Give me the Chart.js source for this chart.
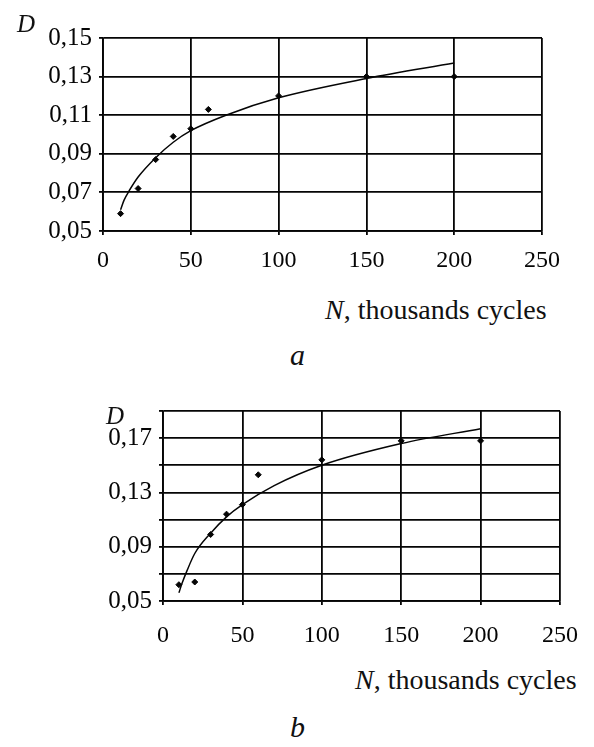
<!DOCTYPE html>
<html>
<head>
<meta charset="utf-8">
<script src="https://cdn.jsdelivr.net/npm/chart.js@4.4.1/dist/chart.umd.min.js"></script>
<style>
  html, body { margin: 0; padding: 0; background: #fff; }
  body { width: 594px; height: 747px; position: relative; overflow: hidden; font-family: "Liberation Serif", "Times New Roman", serif; color: #111; }
  .box { position: absolute; left: 0; width: 594px; }
  .txt { position: absolute; white-space: nowrap; line-height: 1; }
  .it { font-style: italic; }
</style>
</head>
<body>
<div class="box" style="top:0;height:280px;"><canvas id="ca" width="594" height="280"></canvas></div>
<div class="box" style="top:380px;height:280px;"><canvas id="cb" width="594" height="280"></canvas></div>

<div class="txt it" style="left:17px;top:11px;font-size:25px;">D</div>
<div class="txt" style="left:325px;top:296px;font-size:28px;"><span class="it">N</span>, thousands cycles</div>
<div class="txt it" style="left:290px;top:340px;font-size:30px;">a</div>

<div class="txt it" style="left:106px;top:403px;font-size:25px;">D</div>
<div class="txt" style="left:355px;top:666px;font-size:28px;"><span class="it">N</span>, thousands cycles</div>
<div class="txt it" style="left:290px;top:712px;font-size:30px;">b</div>

<script>
// ---- Chart a data ----
const pointsN_A = [10, 20, 30, 40, 50, 60, 100, 150, 200];
const pointsD_A = [0.059, 0.072, 0.087, 0.099, 0.103, 0.113, 0.120, 0.130, 0.130];
const curveN_A  = [10, 12, 15, 20, 30, 40, 50, 70, 100, 150, 200];
const curveD_A  = [0.061, 0.066, 0.071, 0.078, 0.088, 0.096, 0.102, 0.110, 0.119, 0.129, 0.137];
const yTicksA   = [0.05, 0.07, 0.09, 0.11, 0.13, 0.15];

// ---- Chart b data ----
const pointsN_B = [10, 20, 30, 40, 50, 60, 100, 150, 200];
const pointsD_B = [0.062, 0.064, 0.099, 0.114, 0.121, 0.143, 0.154, 0.168, 0.168];
const curveN_B  = [10, 12, 15, 20, 30, 40, 50, 70, 100, 150, 200];
const curveD_B  = [0.056, 0.063, 0.072, 0.085, 0.100, 0.112, 0.121, 0.135, 0.150, 0.166, 0.177];
const yTicksB   = [0.05, 0.07, 0.09, 0.11, 0.13, 0.15, 0.17, 0.19];
const yLabelledB = [0.05, 0.09, 0.13, 0.17];

const xTicks = [0, 50, 100, 150, 200, 250];

const INK = '#050505';
const FONT = "'Liberation Serif', 'Times New Roman', serif";
const fmt = v => v.toFixed(2).replace('.', ',');
const near = (a, b) => Math.abs(a - b) < 1e-6;

function pairs(xs, ys) { return xs.map((x, i) => ({ x: x, y: ys[i] })); }

function makeChart(id, cfg) {
  return new Chart(document.getElementById(id), {
    type: 'scatter',
    data: {
      datasets: [
        {
          data: pairs(cfg.curveN, cfg.curveD),
          showLine: true,
          borderColor: INK,
          borderWidth: 1.5,
          pointRadius: 0,
          cubicInterpolationMode: 'monotone',
          fill: false
        },
        {
          data: pairs(cfg.pointsN, cfg.pointsD),
          showLine: false,
          pointStyle: 'rectRot',
          pointRadius: 3,
          backgroundColor: INK,
          borderColor: INK,
          borderWidth: 1
        }
      ]
    },
    options: {
      responsive: false,
      animation: false,
      events: [],
      layout: { padding: { left: 0, top: cfg.top, right: cfg.right, bottom: 0 } },
      plugins: { legend: { display: false }, tooltip: { enabled: false } },
      scales: {
        x: {
          type: 'linear',
          min: xTicks[0],
          max: xTicks[xTicks.length - 1],
          afterBuildTicks: s => { s.ticks = xTicks.map(v => ({ value: v })); },
          afterFit: s => { s.height = cfg.xh; },
          ticks: {
            color: INK,
            font: { family: FONT, size: 24 },
            padding: cfg.xpad,
            maxRotation: 0,
            autoSkip: false,
            callback: v => String(v)
          },
          grid: { color: INK, lineWidth: 1.8, tickLength: 4, drawTicks: true },
          border: { color: INK, width: 1.8 }
        },
        y: {
          type: 'linear',
          min: cfg.yTicks[0],
          max: cfg.yTicks[cfg.yTicks.length - 1],
          afterBuildTicks: s => { s.ticks = cfg.yTicks.map(v => ({ value: v })); },
          afterFit: s => { s.width = cfg.yw; },
          ticks: {
            color: INK,
            font: { family: FONT, size: 25 },
            padding: 7,
            autoSkip: false,
            callback: v => (cfg.labelled.some(l => near(l, v)) ? fmt(v) : '')
          },
          grid: { color: INK, lineWidth: 1.8, tickLength: 4, drawTicks: true },
          border: { color: INK, width: 1.8 }
        }
      }
    }
  });
}

makeChart('ca', {
  pointsN: pointsN_A, pointsD: pointsD_A, curveN: curveN_A, curveD: curveD_A,
  yTicks: yTicksA, labelled: yTicksA,
  top: 38, right: 52, yw: 103, xh: 49, xpad: 11
});

makeChart('cb', {
  pointsN: pointsN_B, pointsD: pointsD_B, curveN: curveN_B, curveD: curveD_B,
  yTicks: yTicksB, labelled: yLabelledB,
  top: 31, right: 26, yw: 163, xh: 59, xpad: 16
});
</script>
</body>
</html>
